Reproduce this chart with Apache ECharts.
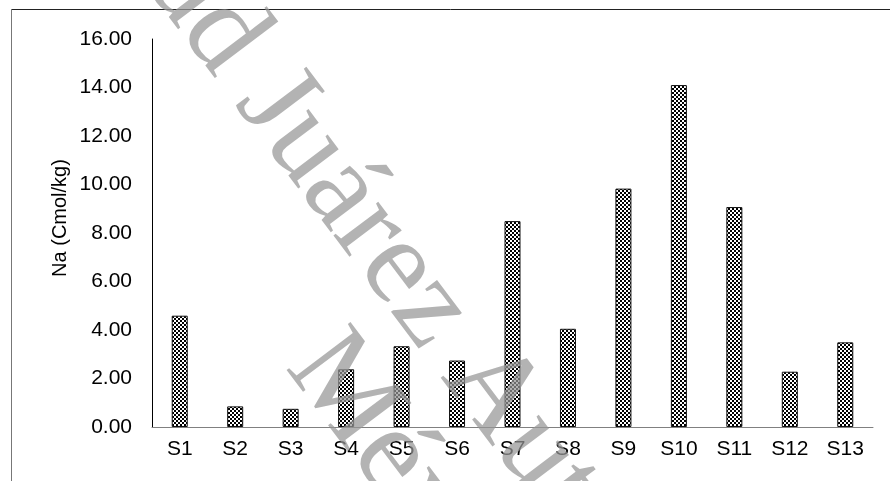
<!DOCTYPE html>
<html>
<head>
<meta charset="utf-8">
<script src="https://cdn.jsdelivr.net/npm/echarts@6/dist/echarts.min.js"></script>
<style>html,body{margin:0;padding:0;background:#fff;}#c{width:890px;height:481px;}</style>
</head>
<body>
<div id="c"></div>
<script>
var categories = ['S1','S2','S3','S4','S5','S6','S7','S8','S9','S10','S11','S12','S13'];
var naValues = [4.59, 0.85, 0.75, 2.38, 3.33, 2.74, 8.49, 4.05, 9.83, 14.10, 9.07, 2.28, 3.49];
var yAxisTitle = 'Na (Cmol/kg)';
var watermarkLine1 = 'ad Juárez Autónoma';
var watermarkLine2 = 'México';

var pc = document.createElement('canvas');
pc.width = 4; pc.height = 4;
var ctx = pc.getContext('2d');
ctx.fillStyle = '#fff'; ctx.fillRect(0,0,4,4);
ctx.fillStyle = '#000'; ctx.fillRect(0,0,2,2); ctx.fillRect(2,2,2,2);

var chart = echarts.init(document.getElementById('c'), null, {renderer:'canvas'});
var ang = 53 * Math.PI / 180;
chart.setOption({
  animation: false,
  backgroundColor: '#fff',
  grid: {left: 152, right: 17, top: 39, bottom: 54},
  xAxis: {
    type: 'category', data: categories,
    axisLine: {lineStyle: {color: '#808080', width: 1}},
    axisTick: {show: false},
    axisLabel: {color: '#000', fontSize: 21, fontFamily: 'Liberation Sans', margin: 12}
  },
  yAxis: {
    type: 'value', min: 0, max: 16, interval: 2,
    axisLine: {show: true, lineStyle: {color: '#000', width: 1}},
    axisTick: {show: false},
    splitLine: {show: false},
    axisLabel: {color: '#000', fontSize: 21, fontFamily: 'Liberation Sans', margin: 20,
      formatter: function(v){ return v.toFixed(2); }}
  },
  series: [{
    type: 'bar', data: naValues, barWidth: 16,
    itemStyle: {color: {image: pc, repeat: 'repeat'}, borderColor: '#111', borderWidth: 1}
  }],
  graphic: [
    {type: 'line', shape: {x1: 11, y1: 9.5, x2: 890, y2: 9.5}, style: {stroke: '#222', lineWidth: 1}},
    {type: 'line', shape: {x1: 11.5, y1: 9, x2: 11.5, y2: 481}, style: {stroke: '#777', lineWidth: 1}},
    {type: 'text', x: 60, y: 218, rotation: Math.PI/2,
      style: {text: yAxisTitle, fontSize: 20, fontFamily: 'Liberation Sans', fill: '#000', align: 'center', verticalAlign: 'middle'}},
    {type: 'text', x: 172, y: -32, rotation: -ang, z: 100,
      style: {text: watermarkLine1, fontSize: 122, fontFamily: 'Liberation Serif', fill: 'rgba(150,150,150,0.72)', align: 'left', verticalAlign: 'middle'}},
    {type: 'text', x: 310, y: 348, rotation: -ang, z: 100,
      style: {text: watermarkLine2, fontSize: 122, fontFamily: 'Liberation Serif', fill: 'rgba(150,150,150,0.72)', align: 'left', verticalAlign: 'middle'}}
  ]
});
</script>
</body>
</html>
